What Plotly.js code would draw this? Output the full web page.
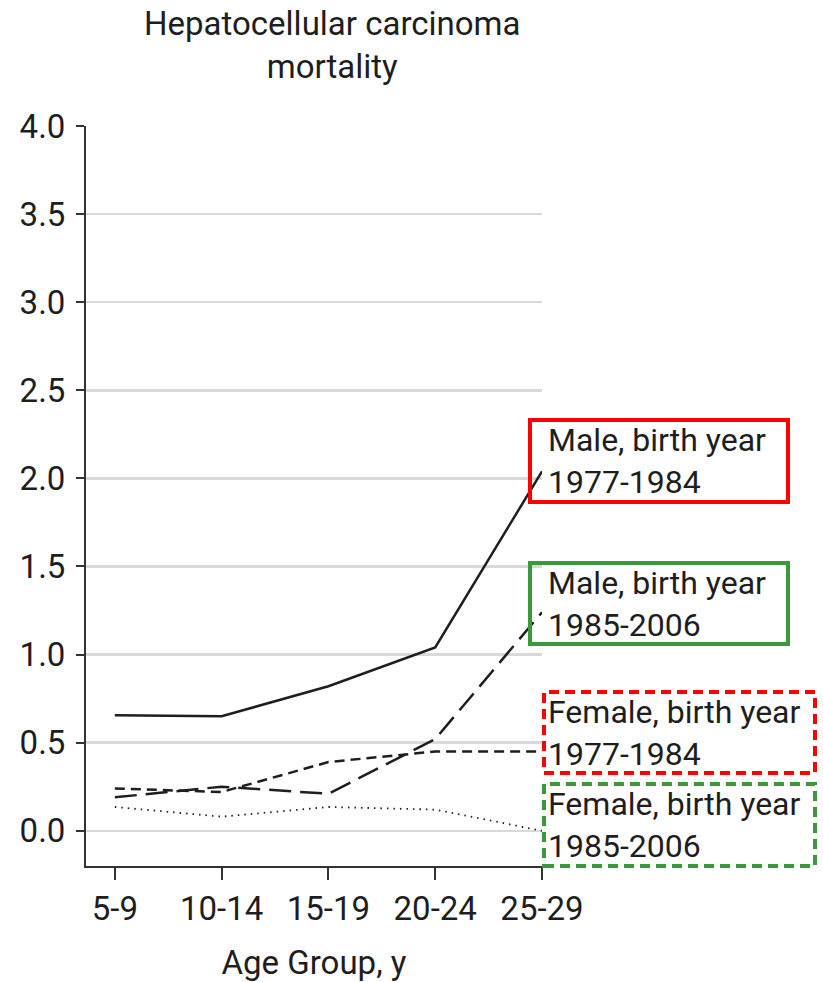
<!DOCTYPE html>
<html><head><meta charset="utf-8">
<script src="https://cdn.plot.ly/plotly-3.0.1.min.js"></script>
<style>html,body{margin:0;padding:0;background:#fff}</style>
</head><body><div id="chart" style="width:823px;height:982px"></div>
<script>
const ageGroups = ['5-9', '10-14', '15-19', '20-24', '25-29'];
const male7784 = [0.655, 0.65, 0.82, 1.04, 2.04];
const male8506 = [0.19, 0.25, 0.21, 0.52, 1.24];
const female7784 = [0.24, 0.22, 0.39, 0.45, 0.45];
const female8506 = [0.135, 0.08, 0.135, 0.12, 0.0];
const seriesNames = ['Male, birth year<br>1977-1984', 'Male, birth year<br>1985-2006', 'Female, birth year<br>1977-1984', 'Female, birth year<br>1985-2006'];
const yTicks = [0, 0.5, 1, 1.5, 2, 2.5, 3, 3.5, 4];
const yTickText = ['0.0', '0.5', '1.0', '1.5', '2.0', '2.5', '3.0', '3.5', '4.0'];
const chartTitle = 'Hepatocellular carcinoma<br>mortality';
const xTitle = 'Age Group, y';

const FONT = 'Roboto, "Noto Sans", sans-serif';
const ink = '#1e1e1e';
const xIdx = ageGroups.map((_, i) => i);
const mk = (y, dash, w) => ({x: xIdx, y: y, type: 'scatter', mode: 'lines', line: {color: ink, width: w, dash: dash}, hoverinfo: 'skip'});
const data = [
  mk(male7784, 'solid', 2.5),
  mk(male8506, '22px,9px', 2.5),
  mk(female7784, '10px,6px', 2.5),
  mk(female8506, '1.5px,5px', 1.8)
];

// plot area in px: left 86, right 542, top 126, bottom 866
const L = 86, R = 542, T = 126, B = 866;
const px = v => (v - L) / (R - L);
const py = v => (B - v) / (B - T);
const boxes = [
  {x0: 530, x1: 788, y0: 420, y1: 502, color: '#ff0000', dash: 'solid', tx: 546},
  {x0: 530, x1: 788, y0: 563, y1: 644, color: '#3a9a3a', dash: 'solid', tx: 546},
  {x0: 544, x1: 815, y0: 692, y1: 773, color: '#ff0000', dash: '10px,6px', tx: 546},
  {x0: 544, x1: 815, y0: 784, y1: 866, color: '#3a9a3a', dash: '10px,6px', tx: 546}
];
const shapes = boxes.map(b => ({
  type: 'rect', xref: 'paper', yref: 'paper',
  x0: px(b.x0), x1: px(b.x1), y0: py(b.y1), y1: py(b.y0),
  line: {color: b.color, width: 4, dash: b.dash}, fillcolor: 'rgba(0,0,0,0)'
}));
const annotations = boxes.map((b, i) => ({
  xref: 'paper', yref: 'paper', x: px(b.tx), y: py((b.y0 + b.y1) / 2),
  xanchor: 'left', yanchor: 'middle', align: 'left', showarrow: false,
  text: seriesNames[i], font: {family: FONT, size: 32, color: ink}
}));
annotations.push({
  xref: 'paper', yref: 'paper', x: px(332), y: py(2), xanchor: 'center', yanchor: 'top',
  align: 'center', showarrow: false, text: chartTitle,
  font: {family: FONT, size: 33, color: ink}
});

const layout = {
  width: 823, height: 982,
  margin: {l: L, r: 823 - R, t: T, b: 982 - B},
  paper_bgcolor: '#fff', plot_bgcolor: '#fff',
  showlegend: false,
  font: {family: FONT, color: ink, size: 30},
  xaxis: {
    range: [-0.27, 4], tickvals: xIdx, ticktext: ageGroups,
    showgrid: false, zeroline: false, showline: true, linecolor: '#333', linewidth: 2,
    ticks: 'outside', ticklen: 12, tickwidth: 2, tickcolor: '#333',
    tickfont: {family: FONT, size: 33, color: ink},
    title: {text: xTitle, font: {family: FONT, size: 33, color: ink}, standoff: 24}
  },
  yaxis: {
    range: [-0.2, 4], tickvals: yTicks, ticktext: yTickText,
    showgrid: true, gridcolor: '#d9d9d9', gridwidth: 2.5,
    zeroline: false, showline: true, linecolor: '#333', linewidth: 2,
    ticks: 'outside', ticklen: 8, tickwidth: 2, tickcolor: '#333',
    tickfont: {family: FONT, size: 33, color: ink}, ticklabelstandoff: 4
  },
  shapes: shapes, annotations: annotations
};
Plotly.newPlot('chart', data, layout, {displayModeBar: false, staticPlot: true});
</script></body></html>
